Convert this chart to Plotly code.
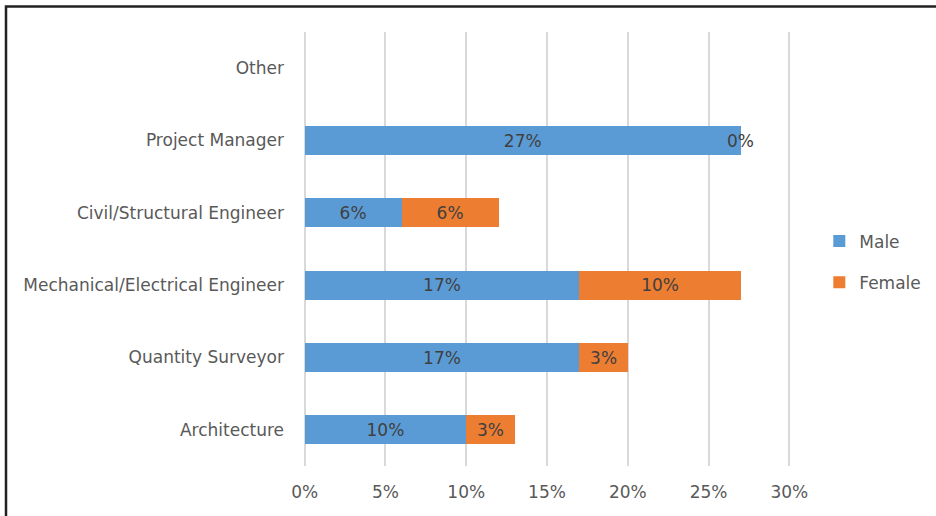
import plotly.graph_objects as go

# Job roles, listed bottom to top on the category axis
roles = ["Architecture", "Quantity Surveyor", "Mechanical/Electrical Engineer",
         "Civil/Structural Engineer", "Project Manager", "Other"]
male = [10, 17, 17, 6, 27, None]
female = [3, 3, 10, 6, 0, None]
x_ticks = [0, 5, 10, 15, 20, 25, 30]
x_tick_labels = ["0%", "5%", "10%", "15%", "20%", "25%", "30%"]

BLUE = "#5B9BD5"
ORANGE = "#ED7D31"
TEXT = "#595959"
FONT = "DejaVu Sans, sans-serif"
FS = 17


def pct(vals):
    return ["" if v is None else f"{v}%" for v in vals]


fig = go.Figure()
fig.add_trace(go.Bar(
    y=roles, x=male, name="Male", orientation="h", legendgroup="m",
    marker=dict(color=BLUE, line=dict(width=0)),
    text=pct(male), textposition="inside", insidetextanchor="middle",
    textfont=dict(color="#404040", size=FS, family=FONT),
))
fig.add_trace(go.Bar(
    y=roles, x=female, name="Female", orientation="h", legendgroup="f",
    marker=dict(color=ORANGE, line=dict(width=0)),
    text=pct(female), textposition="inside", insidetextanchor="middle",
    textfont=dict(color="#404040", size=FS, family=FONT),
))

# Zero-width segments cannot hold inside text, so label them at the stack end
for r, m, f in zip(roles, male, female):
    if f == 0 and m is not None:
        fig.add_annotation(x=m + f, y=r, text=f"{f}%", showarrow=False,
                           font=dict(color="#404040", size=FS, family=FONT),
                           xanchor="center", yanchor="middle")

# Frame around the chart
L, R, T, B = 303, 145, 32, 50
W, H = 936, 516
pw, ph = W - L - R, H - T - B
fx0 = (6 - L) / pw
fx1 = (W + 10 - L) / pw
fy1 = 1 + (T - 6.5) / ph
fy0 = -(B + 10) / ph
fig.add_shape(type="rect", xref="paper", yref="paper",
              x0=fx0, x1=fx1, y0=fy0, y1=fy1,
              line=dict(color="#222222", width=2.5), layer="above")

fig.update_layout(
    width=W, height=H, barmode="stack", bargap=0.6,
    margin=dict(l=L, r=R, t=T, b=B, autoexpand=False),
    paper_bgcolor="white", plot_bgcolor="white",
    font=dict(family=FONT, size=FS, color=TEXT),
    uniformtext=dict(mode="show", minsize=10),
    legend=dict(x=1.058, xanchor="left", y=0.47, yanchor="middle",
                traceorder="grouped", font=dict(size=FS, color=TEXT),
                itemsizing="constant", tracegroupgap=16, itemwidth=30),
    xaxis=dict(range=[-0.1, 30.1], tickvals=x_ticks, ticktext=x_tick_labels,
               showgrid=True, gridcolor="#D9D9D9", gridwidth=1.5,
               zeroline=False, showline=False, ticks="",
               ticklabelstandoff=14, tickfont=dict(size=FS, color=TEXT)),
    yaxis=dict(categoryorder="array", categoryarray=roles,
               showgrid=False, zeroline=False, showline=False, ticks="",
               ticklabelstandoff=18, tickfont=dict(size=FS, color=TEXT)),
    showlegend=True,
)

fig.write_html("out.html")
